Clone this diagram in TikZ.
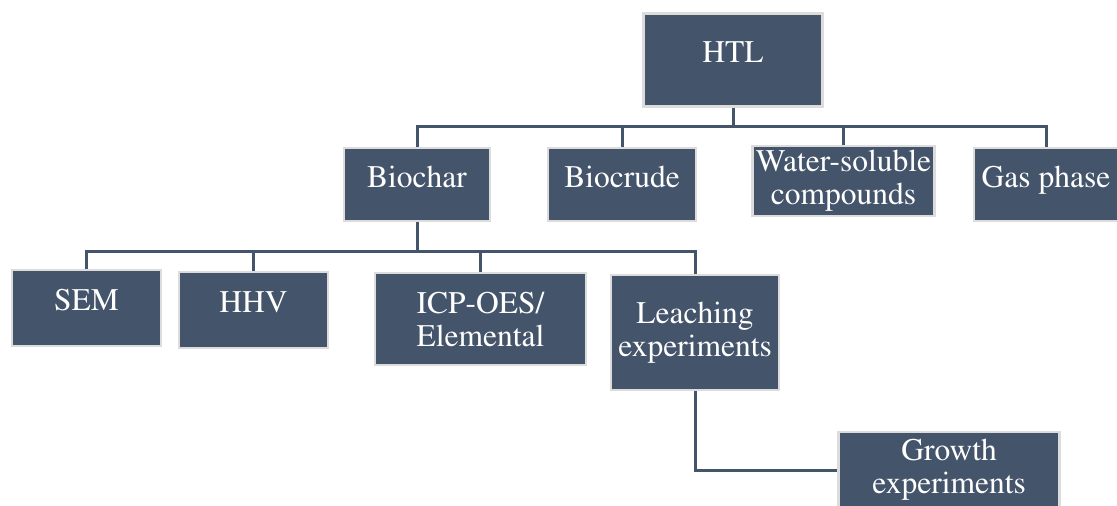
\documentclass[tikz,border=0pt]{standalone}
\usepackage[T1]{fontenc}
\usepackage{mathptmx}
\usepackage{xcolor}
\definecolor{SlateFill}{HTML}{44546A}
\definecolor{SlateLine}{HTML}{44546A}
\definecolor{EdgeGray}{HTML}{DCDCDC}
\usetikzlibrary{positioning}
\tikzset{
  slate node/.style n args={2}{
    rectangle, minimum width=#1, minimum height=#2,
    align=center, inner sep=0pt, fill=SlateFill, draw=EdgeGray,
    line width=2.5pt, text=white,
    font=\rmfamily\fontsize{31.5}{33}\selectfont
  },
  one line/.style={text depth=16pt},
  link/.style={draw=SlateLine, line width=3pt},
}

\begin{document}
\begin{tikzpicture}[x=1pt, y=-1pt]
  \useasboundingbox (0,0) rectangle (1117,506);

  \node[slate node={179pt}{93pt}, one line] (htl) at (733,60) {HTL};

  \node[slate node={146pt}{73pt}, one line] (biochar) at (417,184.5) {Biochar};
  \node[slate node={148pt}{73pt}, one line] (biocrude) at (622,184.5) {Biocrude};
  \node[slate node={182pt}{70pt}] (water) at (843.5,181) {Water-soluble\\compounds};
  \node[slate node={144pt}{73pt}, one line] (gas) at (1046,184.5) {Gas phase};

  \node[slate node={149pt}{76pt}, one line] (sem) at (86.5,308) {SEM};
  \node[slate node={149pt}{76pt}, one line] (hhv) at (253.5,310) {HHV};
  \node[slate node={211pt}{92pt}] (icp) at (480.5,319) {ICP-OES/\\Elemental};
  \node[slate node={168pt}{115pt}] (leach) at (695,332.5) {Leaching\\experiments};

  \node[slate node={221pt}{76pt}] (growth) at (949,470) {Growth\\experiments};

  \draw[link] (htl.south) -- ++(0,18.5) -| (biochar.north);
  \draw[link] (htl.south) -- ++(0,18.5) -| (biocrude.north);
  \draw[link] (htl.south) -- ++(0,18.5) -| (water.north);
  \draw[link] (htl.south) -- ++(0,18.5) -| (gas.north);

  \draw[link] (biochar.south) -- ++(0,29) -| (sem.north);
  \draw[link] (biochar.south) -- ++(0,29) -| (hhv.north);
  \draw[link] (biochar.south) -- ++(0,29) -| (icp.north);
  \draw[link] (biochar.south) -- ++(0,29) -| (leach.north);

  \draw[link] (leach.south) |- (growth.west);
\end{tikzpicture}
\end{document}
